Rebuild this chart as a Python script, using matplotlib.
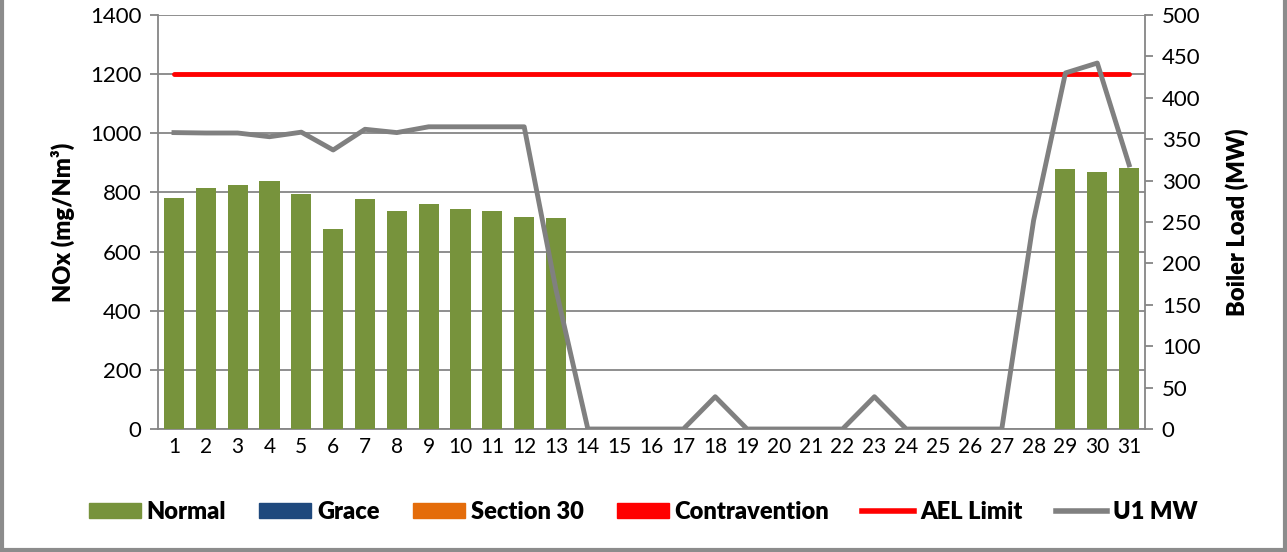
import matplotlib.pyplot as plt
from matplotlib.patches import Patch
from matplotlib.lines import Line2D
import numpy as np

plt.rcParams['font.family'] = ['Lato', 'DejaVu Sans']

# data
days = list(range(1, 32))
normal = [782, 814, 825, 838, 794, 675, 777, 738, 762, 745, 736, 716, 712,
          0, 0, 0, 0, 0, 0, 0, 0, 0, 0, 0, 0, 0, 0, 0,
          879, 869, 881]
grace = [0] * 31
section30 = [0] * 31
contravention = [0] * 31
ael_limit = [1200] * 31
u1_mw = [358, 357.5, 357.5, 353, 358.5, 337, 362, 358, 365, 365, 365, 365, 168,
         0, 0, 0, 0, 39, 0, 0, 0, 0, 39, 0, 0, 0, 0, 252,
         430, 442, 319]

c_normal = '#77933C'
c_grace = '#1F497D'
c_sec30 = '#E46C0A'
c_contra = '#FF0000'
c_ael = '#FF0000'
c_mw = '#808080'
grid_c = '#868686'

fig = plt.figure(figsize=(12.87, 5.52), dpi=100)
ax = fig.add_axes([0.1228, 0.2228, 0.7669, 0.75])

x = np.array(days)
ax.bar(x, normal, width=0.63, color=c_normal, linewidth=0, zorder=3)
ax.bar(x, grace, width=0.63, bottom=normal, color=c_grace, linewidth=0, zorder=3)
ax.bar(x, section30, width=0.63, bottom=normal, color=c_sec30, linewidth=0, zorder=3)
ax.bar(x, contravention, width=0.63, bottom=normal, color=c_contra, linewidth=0, zorder=3)
ax.plot(x, ael_limit, color=c_ael, lw=3.5, solid_capstyle='round', zorder=4)

ax.set_xlim(0.5, 31.5)
ax.set_ylim(0, 1400)
ax.set_yticks(range(0, 1401, 200))
ax.set_xticks(days)
ax.yaxis.grid(True, color=grid_c, lw=1.3, zorder=0)
ax.set_axisbelow(True)
for s in ['top', 'right']:
    ax.spines[s].set_visible(False)
for s in ['left', 'bottom']:
    ax.spines[s].set_color(grid_c)
    ax.spines[s].set_linewidth(1.3)
ax.tick_params(axis='y', direction='out', length=6, color=grid_c, width=1.3,
               labelsize=16, pad=6)
ax.tick_params(axis='x', length=0, labelsize=15, pad=6)
ax.set_ylabel('NOx (mg/Nm³)', fontsize=17, fontweight='heavy', labelpad=11)

ax2 = ax.twinx()
ax2.plot(x, u1_mw, color=c_mw, lw=3.5, zorder=5)
ax2.set_ylim(0, 500)
ax2.set_yticks(range(0, 501, 50))
for s in ['top', 'left', 'bottom']:
    ax2.spines[s].set_visible(False)
ax2.spines['right'].set_color(grid_c)
ax2.spines['right'].set_linewidth(1.3)
ax2.tick_params(axis='y', direction='out', length=6, color=grid_c, width=1.3,
                labelsize=16, pad=6)
ax2.set_ylabel('Boiler Load (MW)', fontsize=17, fontweight='heavy', labelpad=18)

handles = [Patch(color=c_normal), Patch(color=c_grace), Patch(color=c_sec30),
           Patch(color=c_contra), Line2D([], [], color=c_ael, lw=4),
           Line2D([], [], color=c_mw, lw=4)]
labels = ['Normal', 'Grace', 'Section 30', 'Contravention', 'AEL Limit', 'U1 MW']
fig.legend(handles, labels, loc='center', bbox_to_anchor=(0.5, 0.073), ncol=6,
           frameon=False, prop={'size': 17, 'weight': 'heavy'},
           handlelength=2.2, handleheight=0.64, handletextpad=0.25,
           columnspacing=1.4)

# grey frame on left, right and bottom
frame = dict(color='#8C8C8C', lw=3, transform=fig.transFigure)
fig.add_artist(Line2D([0.0012, 0.0012], [0, 1], **frame))
fig.add_artist(Line2D([0.9985, 0.9985], [0, 1], **frame))
fig.add_artist(Line2D([0, 1], [0.003, 0.003], **frame))

fig.savefig('out.png', dpi=100)
